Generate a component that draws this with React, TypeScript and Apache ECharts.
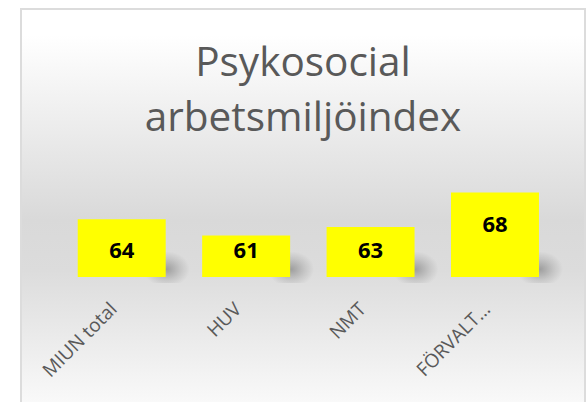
import React, { useEffect, useRef } from "react";
import * as echarts from "echarts";

const categories = ["MIUN total", "HUV", "NMT", "FÖRVALT…"];
const values = [63.9, 61.4, 62.7, 68.0];
const titleText = "Psykosocial\narbetsmiljöindex";
const yMin = 55;
const yMax = 70;

const GRID = { left: 37.5, top: 169.5, width: 497.7, height: 97.5 };
const FONT = "'Open Sans', 'DejaVu Sans', sans-serif";

export default function App() {
  const ref = useRef<HTMLDivElement>(null);
  useEffect(() => {
    if (!ref.current) return;
    const chart = echarts.init(ref.current, null, { renderer: "svg" });
    const pxPerUnit = GRID.height / (yMax - yMin);
    const barData = values.map((v) => {
      const h = (v - yMin) * pxPerUnit;
      const ly = Math.min(30, h - 28);
      return { value: v, label: { position: ["50%", ly] } };
    });
    chart.setOption({
      animation: false,
      title: {
        text: titleText,
        left: "center",
        top: 23,
        padding: 0,
        textStyle: {
          fontFamily: FONT,
          fontSize: 40.5,
          lineHeight: 55,
          fontWeight: "normal",
          color: "#595959",
        },
      },
      grid: { ...GRID, containLabel: false, outerBoundsMode: "none" },
      xAxis: {
        type: "category",
        data: categories,
        axisLine: { show: false },
        axisTick: { show: false },
        splitLine: { show: false },
        axisLabel: {
          interval: 0,
          rotate: 45,
          margin: 20,
          padding: [0, 12, 0, 0],
          color: "#595959",
          fontSize: 19,
          fontFamily: FONT,
        },
      },
      yAxis: {
        type: "value",
        min: yMin,
        max: yMax,
        show: false,
        splitLine: { show: false },
      },
      series: [
        {
          type: "custom",
          z: 1,
          silent: true,
          data: values.map((v, i) => [i, v]),
          renderItem: (params: any, api: any) => {
            const pt = api.coord([api.value(0), yMin]);
            const w = api.size([1, 0])[0] * 0.707;
            const right = pt[0] + w / 2;
            return {
              type: "rect",
              shape: { x: right - 22, y: pt[1] - 30, width: 46, height: 36 },
              style: {
                fill: new echarts.graphic.RadialGradient(0.5, 0.62, 0.5, [
                  { offset: 0, color: "rgba(0,0,0,0.28)" },
                  { offset: 0.6, color: "rgba(0,0,0,0.1)" },
                  { offset: 1, color: "rgba(0,0,0,0)" },
                ]),
              },
            };
          },
        },
        {
          type: "bar",
          z: 3,
          data: barData,
          barWidth: "70.7%",
          itemStyle: { color: "#ffff00" },
          label: {
            show: true,
            align: "center",
            verticalAlign: "middle",
            color: "#000000",
            fontWeight: "bold",
            fontSize: 22,
            fontFamily: FONT,
            formatter: (p: any) => String(Math.round(p.value)),
          },
        },
      ],
    });
    return () => chart.dispose();
  }, []);

  return (
    <div
      style={{
        position: "fixed",
        left: 0,
        top: 0,
        width: 586,
        height: 402,
        overflow: "hidden",
        background: "#ffffff",
      }}
    >
      <div
        style={{
          position: "absolute",
          left: 20,
          top: 8,
          width: 562,
          height: 420,
          border: "2px solid #dcdcdc",
          background:
            "linear-gradient(to bottom, #ffffff 0%, #ffffff 6%, #d9d9d9 50%, #dcdcdc 62%, #ffffff 100%)",
        }}
      >
        <div ref={ref} style={{ width: 562, height: 420 }} />
      </div>
    </div>
  );
}
